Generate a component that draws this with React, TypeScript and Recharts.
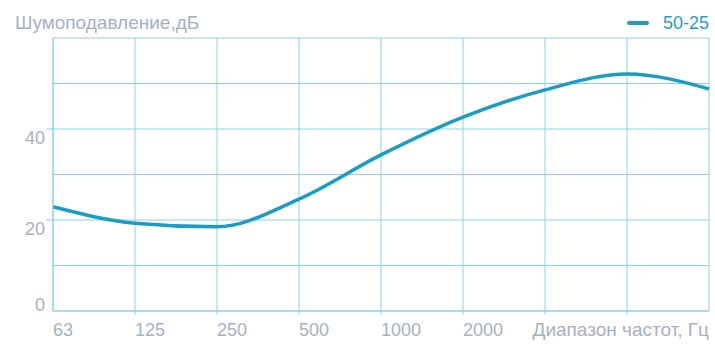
import React from 'react'
import { CartesianGrid, Line, LineChart, XAxis, YAxis } from 'recharts'

const frequencies = ['63', '125', '250', '500', '1000', '2000', '4000', '8000', '16000']
const tickLabels = ['63', '125', '250', '500', '1000', '2000', '', '', 'Диапазон частот, Гц']
const noise5025 = [22.9, 19.3, 18.5, 24.6, 34.3, 42.6, 48.6, 52.1, 48.8]
const yTicks = [0, 10, 20, 30, 40, 50, 60]
const yLabels = ['0', '', '20', '', '40', '', '']

const LINE_COLOR = '#1b9cc2'
const GRID_COLOR = '#8ccfea'
const TEXT_COLOR = '#a4b2c0'
const FONT = '"Liberation Sans", Arial, sans-serif'

const data = frequencies.map((f, i) => ({ name: f, value: noise5025[i] }))

interface TickProps {
  x?: number
  y?: number
  index?: number
}

function XTick({ x = 0, y = 0, index = 0 }: TickProps) {
  const label = tickLabels[index]
  const last = index === tickLabels.length - 1
  const showLine = index > 0 && !last
  return (
    <g>
      {showLine && <line x1={x} x2={x} y1={y - 8} y2={y - 4} stroke={GRID_COLOR} strokeWidth={1} />}
      <text
        x={x}
        y={y + 17}
        textAnchor={last ? 'end' : 'start'}
        fill={TEXT_COLOR}
        fontSize={last ? 19 : 18}
        fontFamily={FONT}
      >
        {label}
      </text>
    </g>
  )
}

function YTick({ x = 0, y = 0, index = 0 }: TickProps) {
  const label = yLabels[index]
  if (!label) return <g />
  const dy = index === 0 ? 0 : 15
  return (
    <g>
      {index > 0 && <line x1={x + 1} x2={x + 8} y1={y} y2={y} stroke={GRID_COLOR} strokeWidth={1} />}
      <text x={x} y={y + dy} textAnchor="end" fill={TEXT_COLOR} fontSize={18} fontFamily={FONT}>
        {label}
      </text>
    </g>
  )
}

function SeriesLegend() {
  return (
    <div
      style={{
        position: 'absolute',
        right: 6,
        top: 12,
        display: 'flex',
        alignItems: 'center',
        fontFamily: FONT,
        lineHeight: '22px'
      }}
    >
      <span
        style={{
          display: 'inline-block',
          width: 22,
          height: 4,
          borderRadius: 2,
          background: LINE_COLOR,
          marginRight: 14
        }}
      />
      <span style={{ fontSize: 18, color: '#2a9cc4' }}>50-25</span>
    </div>
  )
}

export default function App() {
  return (
    <div style={{ position: 'absolute', left: 0, top: 0, width: 715, height: 357, background: '#fff' }}>
      <LineChart width={715} height={357} data={data} margin={{ top: 38, right: 6, left: 0, bottom: 0 }}>
        <CartesianGrid stroke={GRID_COLOR} strokeWidth={1} />
        <XAxis
          dataKey="name"
          interval={0}
          height={46}
          axisLine={{ stroke: GRID_COLOR }}
          tickLine={false}
          tick={<XTick />}
        />
        <YAxis
          domain={[0, 60]}
          ticks={yTicks}
          width={53}
          axisLine={{ stroke: GRID_COLOR }}
          tickLine={false}
          tick={<YTick />}
        />
        <Line
          type="monotone"
          dataKey="value"
          stroke={LINE_COLOR}
          strokeWidth={3.5}
          dot={false}
          isAnimationActive={false}
        />
      </LineChart>
      <div
        style={{
          position: 'absolute',
          left: 15,
          top: 12,
          fontFamily: FONT,
          fontSize: 19,
          color: TEXT_COLOR,
          lineHeight: '22px'
        }}
      >
        Шумоподавление,дБ
      </div>
      <SeriesLegend />
    </div>
  )
}
